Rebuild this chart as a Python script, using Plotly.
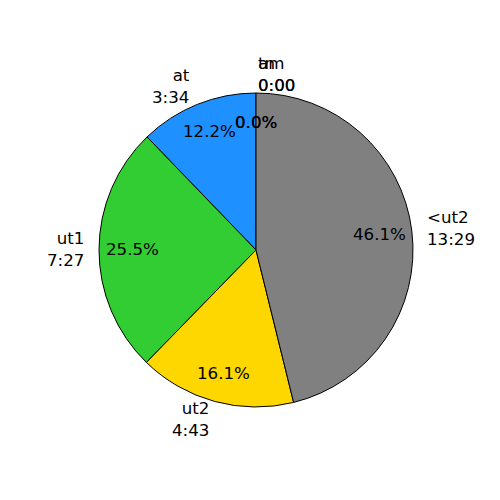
import math
import plotly.graph_objects as go

categories = ["am", "tn", "at", "ut1", "ut2", "<ut2"]
seconds = [0, 0, 214, 447, 283, 809]
colors = ["#1f77b4", "#ff7f0e", "#1E90FF", "#32CD32", "#FFD700", "#808080"]

W = H = 500
cx, cy = 256, 250
R = 157            # pie radius (px)
RX, RY = 155, 160  # text placement radii (px)
FONT = dict(family="DejaVu Sans", size=16.67, color="black")

total = sum(seconds)

fig = go.Figure(go.Pie(
    labels=categories, values=seconds, sort=False,
    direction="counterclockwise", rotation=0,
    marker=dict(colors=colors, line=dict(color="black", width=1)),
    textinfo="none", hoverinfo="label+percent", showlegend=False,
    domain=dict(x=[(cx - R) / W, (cx + R) / W], y=[1 - (cy + R) / H, 1 - (cy - R) / H]),
))

def fmt(s):
    return f"{s // 60}:{s % 60:02d}"

ann = []
cum = 0
for lab, v in zip(categories, seconds):
    th = math.radians(90 + 360 * (cum + v / 2) / total)
    cum += v
    c, s = math.cos(th), math.sin(th)
    lx, ly = cx + 1.1 * RX * c, cy - 1.1 * RY * s
    right = c < -1e-9
    ann.append(dict(
        x=lx / W, y=1 - ly / H, xref="paper", yref="paper",
        text=f"{lab}<br>{fmt(v)}", showarrow=False,
        xanchor="right" if right else "left", yanchor="middle",
        align="right" if right else "left", font=FONT,
    ))
    px, py = cx + 0.8 * RX * c, cy - 0.8 * RY * s
    ann.append(dict(
        x=px / W, y=1 - py / H, xref="paper", yref="paper",
        text=f"{100 * v / total:.1f}%", showarrow=False,
        xanchor="center", yanchor="middle", font=FONT,
    ))

fig.update_layout(
    width=W, height=H, margin=dict(l=0, r=0, t=0, b=0),
    paper_bgcolor="white", plot_bgcolor="white",
    annotations=ann,
)
fig.write_html("out.html", config={"displayModeBar": False},
               post_script="document.body.style.margin='0';")
